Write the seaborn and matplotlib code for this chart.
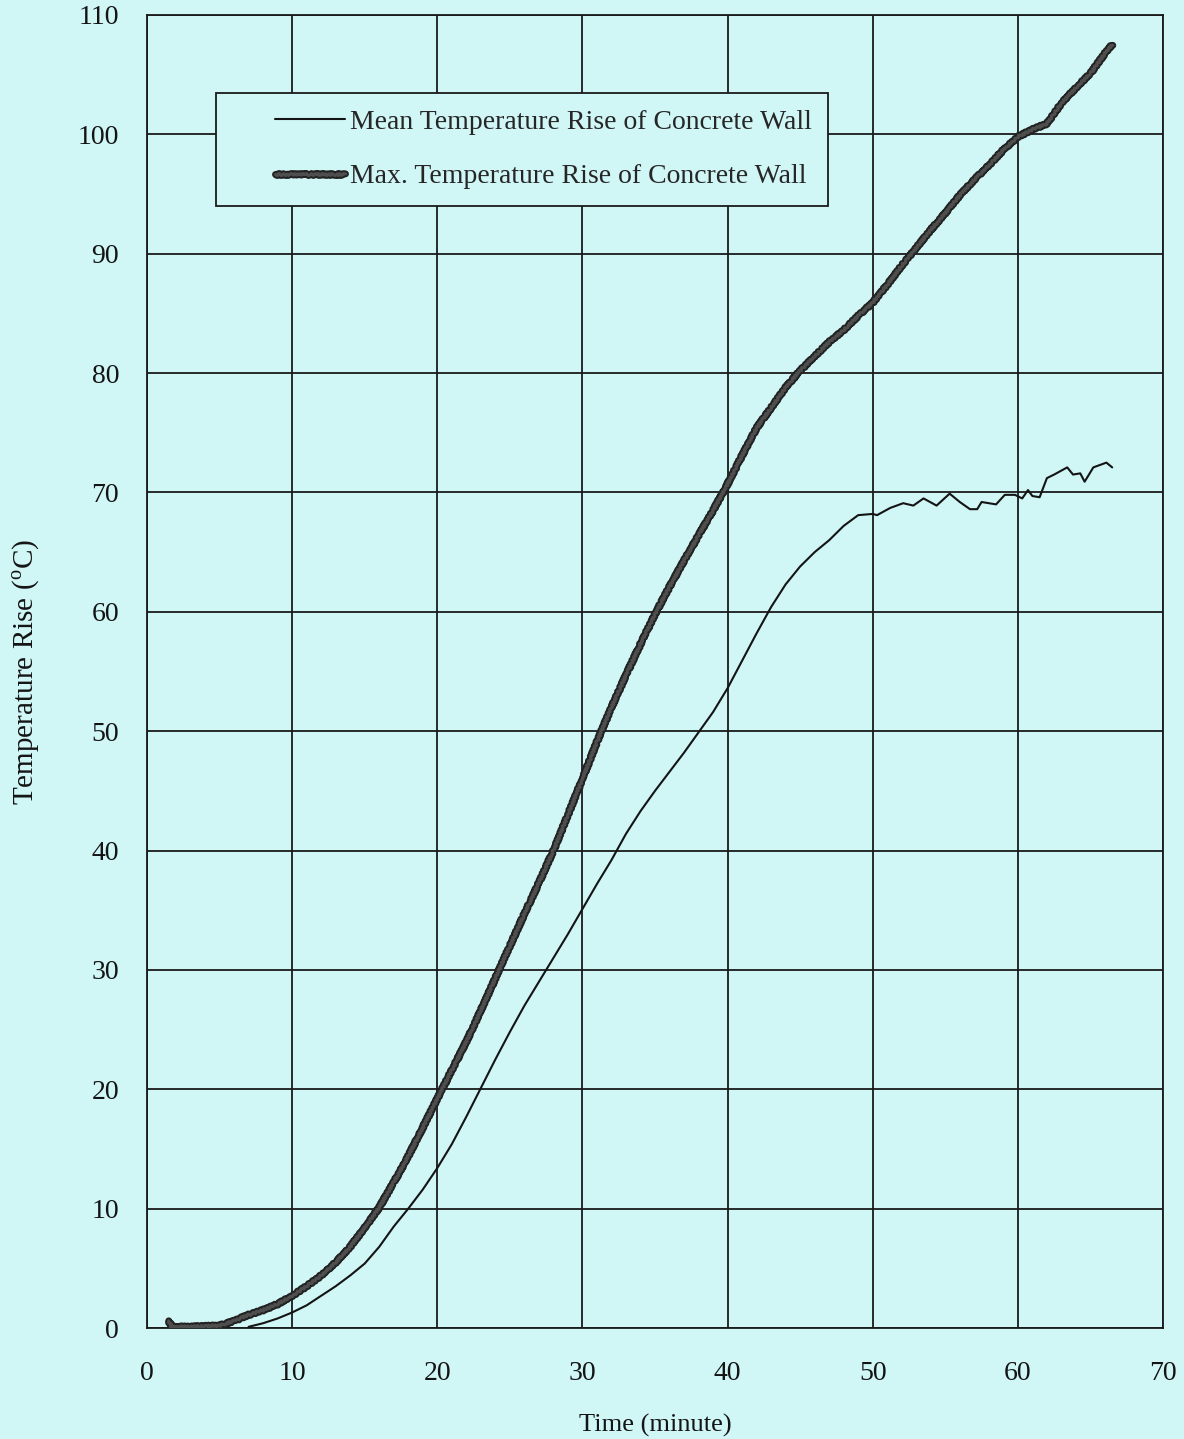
import numpy as np
import pandas as pd
import seaborn as sns
import matplotlib
matplotlib.use("Agg")
import matplotlib.pyplot as plt
import matplotlib.patheffects as pe
from matplotlib.legend_handler import HandlerLine2D

# ---- data ----
max_time = [1.5, 1.7, 3, 5, 6, 7, 8, 9, 10, 11, 12, 13, 14, 15, 16, 17, 18, 19,
            20, 21, 22, 23, 24, 25, 26, 27, 28, 29, 30, 31, 32, 33, 34, 35, 36, 37,
            38, 39, 40, 41, 42, 43, 44, 45, 46, 47, 48, 49, 50, 51, 52, 53, 54, 55,
            56, 57, 58, 59, 60, 61, 62, 63, 64, 65, 66, 66.5]
max_rise = [0.6, 0.1, 0.1, 0.2, 0.6, 1.1, 1.5, 2.0, 2.7, 3.5, 4.4, 5.5, 6.8, 8.4,
            10.1, 12.2, 14.4, 16.8, 19.2, 21.6, 24.0, 26.6, 29.3, 32.0, 34.7, 37.3,
            40.0, 43.0, 46.0, 49.1, 52.0, 54.7, 57.3, 59.8, 62.1, 64.3, 66.4, 68.5,
            70.7, 73.1, 75.4, 77.1, 78.8, 80.2, 81.4, 82.6, 83.6, 84.8, 85.9, 87.4,
            89.0, 90.5, 92.0, 93.4, 94.9, 96.2, 97.4, 98.7, 99.8, 100.4, 100.9,
            102.6, 103.9, 105.1, 106.8, 107.5]

mean_time = [7, 8, 9, 10, 11, 12, 13, 14, 15, 16, 17, 18, 19, 20, 21, 22, 23, 24,
             25, 26, 27, 28, 29, 30, 31, 32, 33, 34, 35, 36, 37, 38, 39, 40, 41, 42,
             43, 44, 45, 46, 47, 48, 49, 50, 50.3, 51.2, 52.1, 52.8, 53.5, 54.4,
             55.3, 56.0, 56.7, 57.2, 57.5, 58.5, 59.1, 59.8, 60.3, 60.7, 61.0, 61.5,
             62.0, 62.5, 63.4, 63.8, 64.3, 64.6, 65.2, 66.1, 66.5]
mean_rise = [0.1, 0.4, 0.8, 1.3, 1.9, 2.7, 3.5, 4.4, 5.4, 6.8, 8.5, 10.0, 11.6,
             13.4, 15.4, 17.7, 20.1, 22.5, 24.8, 27.0, 29.0, 31.0, 33.0, 35.1, 37.2,
             39.2, 41.4, 43.3, 45.0, 46.6, 48.2, 49.9, 51.6, 53.6, 55.9, 58.2, 60.4,
             62.3, 63.8, 65.0, 66.0, 67.2, 68.1, 68.2, 68.1, 68.7, 69.1, 68.9, 69.5,
             68.9, 69.9, 69.2, 68.6, 68.6, 69.2, 69.0, 69.8, 69.8, 69.5, 70.2, 69.7,
             69.6, 71.2, 71.5, 72.1, 71.5, 71.6, 70.9, 72.1, 72.5, 72.1]

x_ticks = [0, 10, 20, 30, 40, 50, 60, 70]
y_ticks = [0, 10, 20, 30, 40, 50, 60, 70, 80, 90, 100, 110]

label_mean = "Mean Temperature Rise of Concrete Wall"
label_max = "Max. Temperature Rise of Concrete Wall"
x_label = "Time (minute)"
y_label = "Temperature Rise ($^{\\mathrm{o}}$C)"

# ---- style ----
bg = "#d0f6f6"
ink = "#141414"
sns.set_theme(style="white")
plt.rcParams["font.family"] = ["Liberation Serif", "DejaVu Serif"]
plt.rcParams["mathtext.fontset"] = "custom"
plt.rcParams["mathtext.rm"] = "Liberation Serif"

fig = plt.figure(figsize=(11.84, 14.39), dpi=100, facecolor=bg)
ax = fig.add_axes([147 / 1184, 111 / 1439, 1016 / 1184, 1313 / 1439])
ax.set_facecolor(bg)

df_mean = pd.DataFrame({"t": mean_time, "v": mean_rise})
df_max = pd.DataFrame({"t": max_time, "v": max_rise})

sns.lineplot(data=df_mean, x="t", y="v", ax=ax, color=ink, linewidth=1.5,
             label=label_mean, sort=False, zorder=4)
sns.lineplot(data=df_max, x="t", y="v", ax=ax, color="#4e4e4e", linewidth=2.2,
             label=label_max, sort=False, zorder=5)
max_line = ax.lines[-1]
max_line.set_path_effects([pe.Stroke(linewidth=5.0, foreground="#222222"), pe.Normal()])
max_line.set_sketch_params(scale=1.0, length=4, randomness=2)

ax.set_xlim(0, 70)
ax.set_ylim(0, 110)
ax.set_xticks(x_ticks)
ax.set_yticks(y_ticks)
ax.tick_params(axis="both", length=0, labelsize=20, colors=ink)
ax.tick_params(axis="x", pad=24)
ax.tick_params(axis="y", pad=20)
ax.grid(True, color="#1a1a1a", linewidth=1.3)
for s in ax.spines.values():
    s.set_visible(True)
    s.set_color("#1a1a1a")
    s.set_linewidth(1.3)

ax.set_xlabel(x_label, fontsize=19, color=ink, labelpad=20)
ax.set_ylabel(y_label, fontsize=21, color=ink, labelpad=26)


class RightLineHandler(HandlerLine2D):
    """Draw the legend sample only in the right part of the handle box."""
    def __init__(self, frac, **kw):
        super().__init__(**kw)
        self.frac = frac

    def get_xdata(self, legend, xdescent, ydescent, width, height, fontsize):
        x0 = -xdescent + width * (1 - self.frac)
        x1 = -xdescent + width
        xd = np.array([x0, x1])
        return xd, xd


handles, labels = ax.get_legend_handles_labels()
leg = ax.legend(handles, labels, loc="upper left",
                bbox_to_anchor=((216 - 147) / 1016, (1328 - 93) / 1313),
                fontsize=20, frameon=True, fancybox=False, edgecolor="#1a1a1a",
                facecolor=bg, framealpha=1, handlelength=4.04, handletextpad=0.18,
                labelspacing=1.04, borderpad=0.6, borderaxespad=0,
                handler_map={h: RightLineHandler(0.62) for h in handles})
leg.get_frame().set_linewidth(1.3)

fig.savefig("out.png", dpi=100, facecolor=bg)
